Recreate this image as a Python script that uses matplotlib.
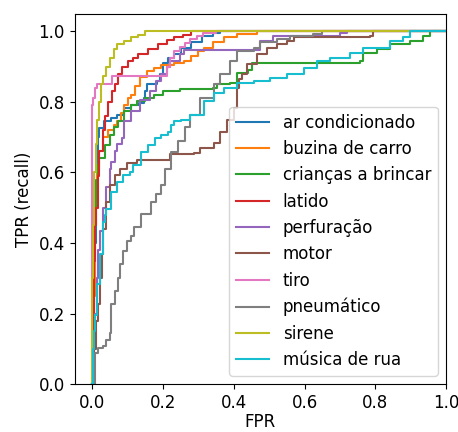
import matplotlib
matplotlib.use("Agg")
import matplotlib.pyplot as plt

plt.rcParams["font.size"] = 12

labels = ["ar condicionado", "buzina de carro", "crianças a brincar", "latido",
          "perfuração", "motor", "tiro", "pneumático", "sirene", "música de rua"]

# (fpr, tpr) corner points per class
fpr_ar = [0, 0.003, 0.006, 0.01, 0.013, 0.016, 0.02, 0.032, 0.052, 0.07, 0.089, 0.11, 0.131,
          0.145, 0.148, 0.155, 0.183, 0.19, 0.2, 0.215, 0.23, 0.25, 0.28, 0.31, 0.34, 0.36, 1]
tpr_ar = [0, 0.2, 0.4, 0.55, 0.62, 0.7, 0.726, 0.745, 0.754, 0.764, 0.783, 0.79, 0.797,
          0.81, 0.83, 0.85, 0.86, 0.88, 0.91, 0.925, 0.935, 0.954, 0.97, 0.988, 0.995, 1.0, 1]

fpr_buz = [0, 0.003, 0.008, 0.012, 0.02, 0.03, 0.045, 0.06, 0.07, 0.08, 0.089, 0.1, 0.108,
           0.12, 0.136, 0.155, 0.175, 0.193, 0.23, 0.258, 0.28, 0.3, 0.315, 0.34, 0.371,
           0.41, 0.465, 1]
tpr_buz = [0, 0.25, 0.5, 0.6, 0.66, 0.7, 0.72, 0.735, 0.745, 0.77, 0.79, 0.81, 0.82,
           0.845, 0.87, 0.887, 0.895, 0.905, 0.91, 0.916, 0.93, 0.945, 0.954, 0.97, 0.983,
           0.994, 1.0, 1]

fpr_cri = [0, 0.003, 0.006, 0.01, 0.015, 0.02, 0.035, 0.049, 0.061, 0.072, 0.089, 0.11,
           0.127, 0.15, 0.174, 0.2, 0.249, 0.342, 0.352, 0.39, 0.409, 0.44, 0.451, 0.757,
           0.766, 0.804, 0.841, 0.898, 0.935, 0.954, 1]
tpr_cri = [0, 0.3, 0.5, 0.58, 0.62, 0.64, 0.678, 0.707, 0.73, 0.745, 0.773, 0.79,
           0.802, 0.81, 0.82, 0.83, 0.837, 0.84, 0.85, 0.854, 0.883, 0.89, 0.911, 0.916,
           0.94, 0.95, 0.964, 0.973, 0.988, 1.0, 1]

fpr_lat = [0, 0.002, 0.005, 0.008, 0.011, 0.016, 0.02, 0.03, 0.036, 0.045, 0.055, 0.063,
           0.072, 0.085, 0.1, 0.115, 0.13, 0.157, 0.185, 0.21, 0.23, 0.255, 0.28, 1]
tpr_lat = [0, 0.2, 0.35, 0.45, 0.5, 0.59, 0.66, 0.72, 0.76, 0.8, 0.83, 0.85,
           0.88, 0.9, 0.915, 0.925, 0.935, 0.95, 0.964, 0.975, 0.983, 0.99, 1.0, 1]

fpr_per = [0, 0.004, 0.008, 0.012, 0.016, 0.021, 0.03, 0.04, 0.05, 0.054, 0.063, 0.07,
           0.083, 0.089, 0.108, 0.136, 0.164, 0.18, 0.193, 0.21, 0.22, 0.249, 0.26, 0.465,
           0.475, 0.51, 0.7, 0.72, 1]
tpr_per = [0, 0.1, 0.2, 0.3, 0.38, 0.435, 0.5, 0.56, 0.611, 0.63, 0.66, 0.68,
           0.697, 0.745, 0.773, 0.807, 0.83, 0.86, 0.878, 0.9, 0.916, 0.935, 0.948, 0.948,
           0.974, 0.987, 0.997, 1.0, 1]

fpr_mot = [0, 0.004, 0.01, 0.017, 0.021, 0.026, 0.031, 0.04, 0.05, 0.064, 0.078, 0.097,
           0.125, 0.212, 0.22, 0.287, 0.305, 0.343, 0.362, 0.38, 0.4, 0.409, 0.414, 0.423,
           0.437, 0.465, 0.494, 0.522, 0.55, 0.569, 0.785, 0.794, 1]
tpr_mot = [0, 0.1, 0.18, 0.226, 0.3, 0.37, 0.44, 0.516, 0.564, 0.592, 0.611, 0.626,
           0.635, 0.635, 0.652, 0.654, 0.669, 0.683, 0.716, 0.75, 0.783, 0.84, 0.864, 0.878,
           0.907, 0.935, 0.954, 0.964, 0.973, 0.983, 0.988, 1.0, 1]

fpr_tir = [0, 0, 0.003, 0.007, 0.012, 0.055, 0.2, 0.21, 0.22, 0.23, 0.249, 0.263, 0.277,
           0.295, 0.314, 0.35, 1]
tpr_tir = [0, 0.79, 0.81, 0.84, 0.852, 0.875, 0.875, 0.9, 0.926, 0.945, 0.955, 0.968,
           0.978, 0.988, 0.995, 1.0, 1]

fpr_pne = [0, 0.007, 0.016, 0.03, 0.04, 0.049, 0.054, 0.064, 0.073, 0.078, 0.087, 0.097,
           0.11, 0.119, 0.138, 0.166, 0.18, 0.195, 0.204, 0.223, 0.241, 0.262, 0.277, 0.305,
           0.343, 0.362, 0.39, 0.409, 0.456, 0.475, 0.522, 0.559, 0.625, 0.65, 1]
tpr_pne = [0, 0.088, 0.102, 0.107, 0.126, 0.145, 0.226, 0.264, 0.302, 0.34, 0.378, 0.407,
           0.421, 0.445, 0.483, 0.516, 0.54, 0.564, 0.611, 0.659, 0.69, 0.73, 0.764, 0.81,
           0.85, 0.878, 0.916, 0.945, 0.954, 0.969, 0.978, 0.988, 0.993, 1.0, 1]

fpr_sir = [0, 0, 0.003, 0.006, 0.01, 0.012, 0.018, 0.025, 0.03, 0.04, 0.05, 0.06, 0.07,
           0.09, 0.11, 0.13, 0.148, 1]
tpr_sir = [0, 0.3, 0.45, 0.6, 0.68, 0.75, 0.8, 0.85, 0.874, 0.9, 0.926, 0.95, 0.965,
           0.972, 0.983, 0.99, 1.0, 1]

fpr_mus = [0, 0.002, 0.005, 0.007, 0.012, 0.021, 0.031, 0.036, 0.04, 0.054, 0.069, 0.087,
           0.106, 0.116, 0.138, 0.157, 0.176, 0.195, 0.213, 0.223, 0.232, 0.251, 0.277,
           0.315, 0.343, 0.371, 0.409, 0.456, 0.503, 0.55, 0.597, 0.635, 0.672, 0.729,
           0.766, 0.841, 0.879, 0.898, 1]
tpr_mus = [0, 0.1, 0.15, 0.197, 0.283, 0.369, 0.459, 0.48, 0.497, 0.545, 0.573, 0.592,
           0.602, 0.62, 0.659, 0.678, 0.697, 0.707, 0.716, 0.735, 0.745, 0.75, 0.764,
           0.802, 0.826, 0.84, 0.854, 0.859, 0.869, 0.878, 0.897, 0.916, 0.926, 0.94,
           0.954, 0.973, 0.983, 1.0, 1]

curves = [(fpr_ar, tpr_ar), (fpr_buz, tpr_buz), (fpr_cri, tpr_cri), (fpr_lat, tpr_lat),
          (fpr_per, tpr_per), (fpr_mot, tpr_mot), (fpr_tir, tpr_tir), (fpr_pne, tpr_pne),
          (fpr_sir, tpr_sir), (fpr_mus, tpr_mus)]

fig, ax = plt.subplots(figsize=(4.58, 4.32), dpi=100)
fig.subplots_adjust(left=0.163, right=0.974, bottom=0.111, top=0.968)

for i, (label, (fpr, tpr)) in enumerate(zip(labels, curves)):
    ax.plot(fpr, tpr, color=f"C{i}", label=label, drawstyle="steps-post")

ax.set_xlim(-0.05, 1.0)
ax.set_ylim(0, 1.05)
ax.set_xlabel("FPR", labelpad=1)
ax.set_ylabel("TPR (recall)")
ax.legend(loc="lower right")

plt.savefig("out.png", dpi=100)
plt.close()
